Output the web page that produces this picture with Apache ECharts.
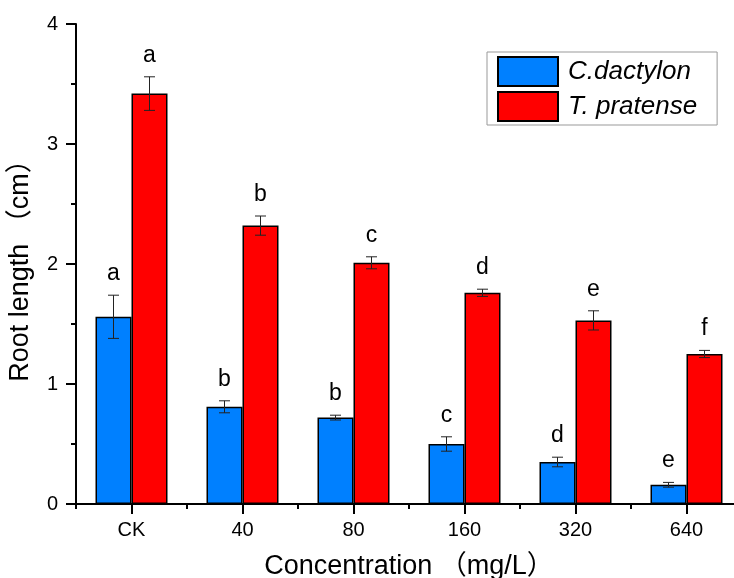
<!DOCTYPE html>
<html>
<head>
<meta charset="utf-8">
<script src="https://cdn.jsdelivr.net/npm/echarts@6/dist/echarts.min.js"></script>
<style>html,body{margin:0;padding:0;background:#fff;}#c{width:734px;height:578px;}</style>
</head>
<body>
<div id="c"></div>
<script>
var categories = ['CK', '40', '80', '160', '320', '640'];
var seriesNames = ['C.dactylon', 'T. pratense'];
var cdMean = [1.56, 0.81, 0.72, 0.50, 0.35, 0.16];
var cdErr  = [0.18, 0.05, 0.02, 0.06, 0.04, 0.02];
var cdLetters = ['a', 'b', 'b', 'c', 'd', 'e'];
var tpMean = [3.42, 2.32, 2.01, 1.76, 1.53, 1.25];
var tpErr  = [0.14, 0.08, 0.05, 0.03, 0.08, 0.03];
var tpLetters = ['a', 'b', 'c', 'd', 'e', 'f'];
var yTicks = [0, 1, 2, 3, 4];

var FONT = '"Liberation Sans", Arial, "Noto Sans CJK SC", sans-serif';
var BAR_W = 36;

function errData(mean, err) {
  return mean.map(function (m, i) { return [i, m, err[i]]; });
}

function makeErr(offsetSign, letters) {
  return function (params, api) {
    var i = api.value(0), m = api.value(1), e = api.value(2);
    var letter = letters[params.dataIndex];
    var c = api.coord([i, m]);
    var x = c[0] + offsetSign * BAR_W / 2;
    var top = api.coord([i, m + e])[1];
    var bot = api.coord([i, m - e])[1];
    var cap = 5.5;
    var st = { stroke: '#222', lineWidth: 1 };
    return {
      type: 'group',
      children: [
        { type: 'line', shape: { x1: x, y1: top, x2: x, y2: bot }, style: st },
        { type: 'line', shape: { x1: x - cap, y1: top, x2: x + cap, y2: top }, style: st },
        { type: 'line', shape: { x1: x - cap, y1: bot, x2: x + cap, y2: bot }, style: st },
        { type: 'text', x: x, y: top - 10, style: { text: letter, fill: '#000', fontSize: 23, fontFamily: FONT, align: 'center', verticalAlign: 'bottom' } }
      ]
    };
  };
}

var chart = echarts.init(document.getElementById('c'), null, { renderer: 'canvas' });
chart.setOption({
  backgroundColor: '#fff',
  animation: false,
  textStyle: { fontFamily: FONT },
  grid: { left: 76, right: -8, top: 24, bottom: 74, containLabel: false, outerBoundsMode: 'none' },
  legend: {
    orient: 'vertical',
    left: 487, top: 52,
    itemWidth: 60, itemHeight: 29,
    itemGap: 4,
    padding: [4, 20, 3, 10],
    borderColor: '#999', borderWidth: 1,
    backgroundColor: '#fff',
    icon: 'rect',
    textStyle: { fontSize: 26, fontStyle: 'italic', color: '#000', fontFamily: FONT, padding: [0, 0, 0, 5] },
    data: seriesNames
  },
  xAxis: [{
    type: 'category',
    data: categories,
    boundaryGap: true,
    name: 'Concentration （mg/L）',
    nameLocation: 'middle',
    nameGap: 49,
    nameTextStyle: { fontSize: 27, color: '#000', fontFamily: FONT },
    axisLine: { lineStyle: { color: '#000', width: 2 } },
    axisTick: { show: true, alignWithLabel: true, length: 10, inside: false, lineStyle: { color: '#000', width: 2 } },
    axisLabel: { fontSize: 20, color: '#000', margin: 16 },
    splitLine: { show: false }
  }, {
    type: 'value',
    min: 0, max: 12, interval: 2,
    position: 'bottom',
    axisLine: { show: false },
    axisTick: { show: true, length: 5, lineStyle: { color: '#000', width: 2 } },
    axisLabel: { show: false },
    splitLine: { show: false }
  }],
  yAxis: {
    type: 'value',
    min: yTicks[0], max: yTicks[yTicks.length - 1], interval: 1,
    name: 'Root length （cm）',
    nameLocation: 'middle',
    nameGap: 42,
    nameTextStyle: { fontSize: 27, color: '#000', fontFamily: FONT },
    axisLine: { show: true, lineStyle: { color: '#000', width: 2 } },
    axisTick: { show: true, length: 10, lineStyle: { color: '#000', width: 2 } },
    minorTick: { show: true, splitNumber: 2, length: 5, lineStyle: { color: '#000', width: 2 } },
    axisLabel: { fontSize: 20, color: '#000', margin: 18 },
    splitLine: { show: false }
  },
  series: [{
    name: seriesNames[0],
    type: 'bar',
    data: cdMean,
    barWidth: BAR_W,
    barGap: '0%',
    itemStyle: { color: '#0080FF', borderColor: '#000', borderWidth: 1.5 }
  }, {
    name: seriesNames[1],
    type: 'bar',
    data: tpMean,
    barWidth: BAR_W,
    barGap: '0%',
    itemStyle: { color: '#FF0000', borderColor: '#000', borderWidth: 1.5 }
  }, {
    type: 'custom',
    renderItem: makeErr(-1, cdLetters),
    data: errData(cdMean, cdErr),
    encode: { x: 0, y: 1 },
    z: 5,
    silent: true
  }, {
    type: 'custom',
    renderItem: makeErr(1, tpLetters),
    data: errData(tpMean, tpErr),
    encode: { x: 0, y: 1 },
    z: 5,
    silent: true
  }]
});
</script>
</body>
</html>
